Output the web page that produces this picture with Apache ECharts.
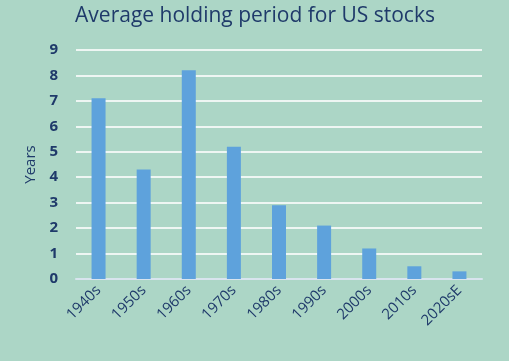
<!DOCTYPE html>
<html>
<head>
<meta charset="utf-8">
<script src="https://cdn.jsdelivr.net/npm/echarts@6/dist/echarts.min.js"></script>
<style>
html,body{margin:0;padding:0;background:#acd6c6;}
#c{width:509px;height:361px;}
</style>
</head>
<body>
<div id="c"></div>
<script>
var categories = ['1940s','1950s','1960s','1970s','1980s','1990s','2000s','2010s','2020sE'];
var holdingYears = [7.1, 4.3, 8.2, 5.2, 2.9, 2.1, 1.2, 0.5, 0.3];
var yTicks = [0,1,2,3,4,5,6,7,8,9];

var chart = echarts.init(document.getElementById('c'));
chart.setOption({
  backgroundColor: '#acd6c6',
  title: {
    text: 'Average holding period for US stocks',
    left: 250, top: 1, textAlign: 'center',
    textStyle: {color: '#1f3a6a', fontSize: 21, fontWeight: 'normal', fontFamily: 'Open Sans'}
  },
  grid: {left: 76, right: 27, top: 50, bottom: 82},
  xAxis: {
    type: 'category',
    data: categories,
    axisLine: {show: true, lineStyle: {color: '#d8e4ee', width: 2}},
    axisTick: {show: false},
    axisLabel: {rotate: 45, color: '#1f3a6a', fontSize: 15, fontFamily: 'Open Sans', margin: 9, interval: 0}
  },
  yAxis: {
    type: 'value',
    min: 0, max: 9, interval: 1,
    name: 'Years',
    nameLocation: 'middle',
    nameGap: 37,
    nameTextStyle: {color: '#1f3a6a', fontSize: 15, fontFamily: 'Open Sans'},
    axisLine: {show: false},
    axisTick: {show: false},
    axisLabel: {color: '#1f3a6a', fontSize: 15, fontWeight: 'bold', fontFamily: 'Open Sans', margin: 18,
      formatter: function(v){ return yTicks.indexOf(v) >= 0 ? String(v) : ''; }},
    splitLine: {lineStyle: {color: '#eef6f3', width: 2}}
  },
  series: [{
    type: 'bar',
    data: holdingYears,
    barWidth: 14,
    itemStyle: {color: '#5ea2dc'}
  }]
});
</script>
</body>
</html>
